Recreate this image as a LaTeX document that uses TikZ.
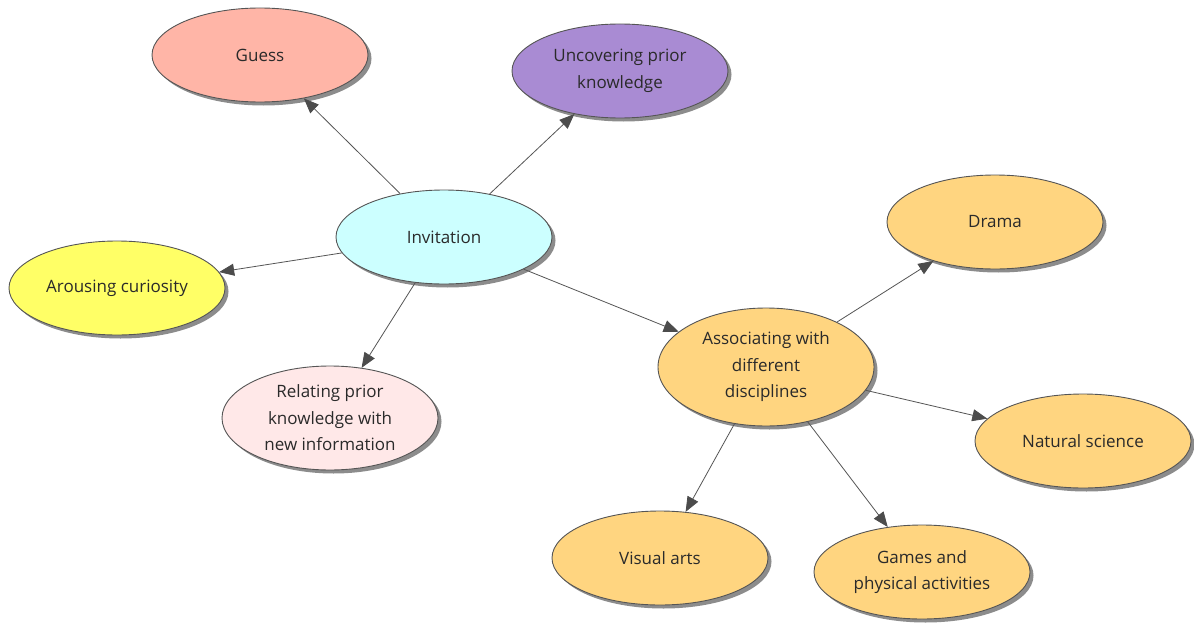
\documentclass[tikz,border=0pt]{standalone}
\usepackage{fontspec}
\setmainfont{Open Sans}
\usetikzlibrary{shapes.geometric,shadows,arrows.meta}
\definecolor{edgegray}{HTML}{555555}
\definecolor{txt}{HTML}{2A2A2A}
\definecolor{cGuess}{HTML}{FFB5A7}
\definecolor{cUncover}{HTML}{A98BD3}
\definecolor{cInvite}{HTML}{CCFFFF}
\definecolor{cArouse}{HTML}{FFFF66}
\definecolor{cRelate}{HTML}{FFE8E8}
\definecolor{cDisc}{HTML}{FFD580}
\tikzset{
  bubble/.style={ellipse, draw=edgegray, line width=0.9pt, minimum width=216pt,
    minimum height=94pt, inner sep=0pt, align=center, text=txt,
    font=\fontsize{17}{26.5}\selectfont,
    drop shadow={shadow xshift=3.5pt, shadow yshift=-3.5pt, fill=black!45, opacity=1}},
  link/.style={draw=edgegray, line width=0.8pt,
    -{Triangle[length=15pt, width=12pt, fill=black!70, color=black!70]}}
}
\begin{document}
\begin{tikzpicture}[x=1pt, y=-1pt]
\useasboundingbox (0,0) rectangle (1194,626);
\fill[white] (0,0) rectangle (1194,626);

\node[bubble, fill=cGuess]   (guess)   at (260,55)  {Guess};
\node[bubble, fill=cUncover] (uncover) at (620,71)  {Uncovering prior\\knowledge};
\node[bubble, fill=cInvite]  (invite)  at (444,237) {Invitation};
\node[bubble, fill=cArouse]  (arouse)  at (117,288) {Arousing curiosity};
\node[bubble, fill=cRelate, minimum height=104pt] (relate) at (330,418) {Relating prior\\knowledge with\\new information};
\node[bubble, fill=cDisc] (drama)   at (995,222)  {Drama};
\node[bubble, fill=cDisc, minimum height=118pt] (assoc) at (766,367) {Associating with\\different\\disciplines};
\node[bubble, fill=cDisc] (natsci)  at (1083,441) {Natural science};
\node[bubble, fill=cDisc] (visual)  at (660,558)  {Visual arts};
\node[bubble, fill=cDisc] (games)   at (922,572)  {Games and\\physical activities};

\draw[link] (invite) -- (guess);
\draw[link] (invite) -- (uncover);
\draw[link] (invite) -- (arouse);
\draw[link] (invite) -- (relate);
\draw[link] (invite) -- (assoc);
\draw[link] (assoc) -- (drama);
\draw[link] (assoc) -- (natsci);
\draw[link] (assoc) -- (visual);
\draw[link] (assoc) -- (games);
\end{tikzpicture}
\end{document}
